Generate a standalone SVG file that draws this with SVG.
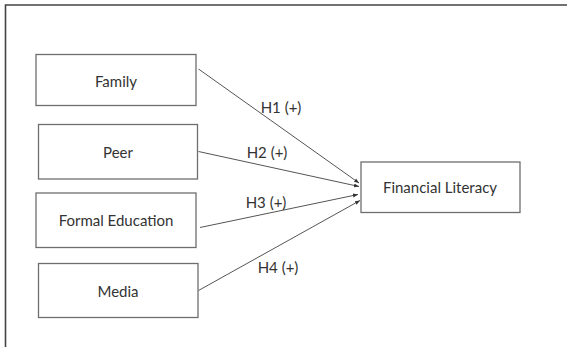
<svg xmlns="http://www.w3.org/2000/svg" width="568" height="347" viewBox="0 0 568 347">
<style>
.box{fill:#fff;stroke:#6e6e6e;stroke-width:1.3}
.lbl{font-family:Lato,"Open Sans","Liberation Sans",sans-serif;font-size:15px;fill:#333;text-anchor:middle;dominant-baseline:central}
.edge{stroke:#555;stroke-width:1;fill:none;marker-end:url(#ah)}
</style>
<defs>
<marker id="ah" viewBox="0 0 10 10" refX="10" refY="5" markerWidth="5" markerHeight="5" orient="auto" markerUnits="userSpaceOnUse">
<path d="M0,1 L10,5 L0,9 z" fill="#333"/>
</marker>
</defs>
<rect width="568" height="347" fill="#fff"/>
<path d="M5.5,347 V5 H567" fill="none" stroke="#444" stroke-width="1.6"/>
<g id="family"><rect class="box" x="36" y="54.5" width="160" height="51"/><text class="lbl" x="116" y="80.5">Family</text></g>
<g id="peer"><rect class="box" x="38.5" y="124.5" width="159" height="54.5"/><text class="lbl" x="118" y="151.5">Peer</text></g>
<g id="formal-education"><rect class="box" x="36" y="193" width="160" height="54.5"/><text class="lbl" x="116" y="220">Formal Education</text></g>
<g id="media"><rect class="box" x="38.5" y="263.5" width="159.5" height="54"/><text class="lbl" x="118" y="291">Media</text></g>
<g id="financial-literacy"><rect class="box" x="361" y="162" width="159" height="50.5"/><text class="lbl" x="440" y="187">Financial Literacy</text></g>
<g id="connectors">
<line class="edge" x1="198.5" y1="69" x2="359" y2="183"/>
<line class="edge" x1="198.5" y1="151.5" x2="359" y2="186.5"/>
<line class="edge" x1="200" y1="227.5" x2="358" y2="194.5"/>
<line class="edge" x1="198.5" y1="290.5" x2="360" y2="200.5"/>
<text class="lbl" x="281" y="106.5">H1 (+)</text>
<text class="lbl" x="267" y="151.5">H2 (+)</text>
<text class="lbl" x="266" y="201.5">H3 (+)</text>
<text class="lbl" x="278" y="267">H4 (+)</text>
</g>
</svg>
